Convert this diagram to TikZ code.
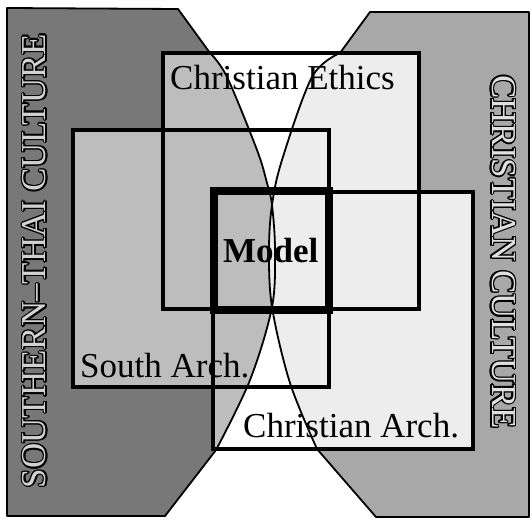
\documentclass[tikz,border=0pt]{standalone}
\usepackage{fontspec}
\setmainfont{Liberation Serif}
\definecolor{Lout}{gray}{0.47}
\definecolor{Rout}{gray}{0.66}
\definecolor{Lin}{gray}{0.74}
\definecolor{Rin}{gray}{0.93}
\definecolor{Ltxt}{gray}{0.82}
\definecolor{Rtxt}{gray}{0.88}
\begin{document}
\begin{tikzpicture}[x=1pt,y=-1pt,
  lbl/.style={font=\fontsize{35}{40}\selectfont, inner sep=0pt},
  boxline/.style={draw=black, line width=4.5pt},
  modelline/.style={draw=black, line width=7.5pt},
  regionedge/.style={draw=black, line width=1.8pt, line join=round}]
\useasboundingbox (0,0) rectangle (532,522);
\def\Lpath{(7,8) -- (178,9) -- (210,53) -- plot[smooth,tension=0.55] coordinates {(210,53) (227,77) (257,150) (267,183) (272,205) (275,250) (272,307) (250,380) (216,450)} -- (165,516) -- (7,516) -- cycle}
\def\Rpath{(529,12) -- (370,12) -- (340,53) -- plot[smooth,tension=0.55] coordinates {(340,53) (312,77) (282,160) (272,205) (269,250) (272,307) (290,383) (317,449)} -- (376,517) -- (529,517) -- cycle}
\def\Boxes{(73,130) rectangle (329,387) (163,53) rectangle (419,309) (213,192) rectangle (473,449)}
% regions
\fill[Lout] \Lpath;
\fill[Rout] \Rpath;
\begin{scope}\clip \Lpath; \fill[Lin] \Boxes; \end{scope}
\begin{scope}\clip \Rpath; \fill[Rin] \Boxes; \end{scope}
\draw[regionedge] \Lpath;
\draw[regionedge] \Rpath;
% boxes
\draw[boxline] (163,53) rectangle (419,309);
\draw[boxline] (73,130) rectangle (329,387);
\draw[boxline] (213,192) rectangle (473,449);
\draw[modelline] (214,191) rectangle (329,310);
% labels
\node[lbl, anchor=base west] (ethics) at (170,89) {Christian Ethics};
\node[lbl, anchor=base west] (southarch) at (80,377) {South Arch.};
\node[lbl, anchor=base west] (chrarch) at (243,437) {Christian Arch.};
\node[lbl, font=\fontsize{35}{40}\selectfont\bfseries, anchor=base west] (model) at (223,262) {Model};
% vertical outlined labels
\foreach \a in {0,30,...,330}{
  \node[lbl, xshift={1.3pt*cos(\a)}, yshift={1.3pt*sin(\a)}, rotate=90, text=black] (sthaio\a) at (34.5,261) {SOUTHERN–THAI CULTURE};
  \node[lbl, xshift={1.3pt*cos(\a)}, yshift={1.3pt*sin(\a)}, rotate=-90, text=black] (chculo\a) at (503.5,252) {CHRISTIAN CULTURE};
}
\node[lbl, rotate=90, text=Ltxt] (sthai) at (34.5,261) {SOUTHERN–THAI CULTURE};
\node[lbl, rotate=-90, text=Rtxt] (chcul) at (503.5,252) {CHRISTIAN CULTURE};
\end{tikzpicture}
\end{document}
